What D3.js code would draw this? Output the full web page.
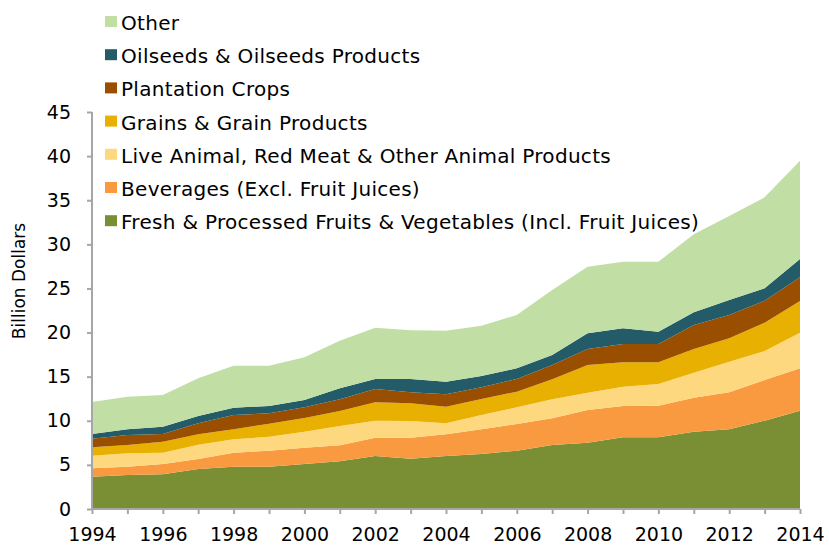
<!DOCTYPE html>
<html>
<head>
<meta charset="utf-8">
<script src="https://cdn.jsdelivr.net/npm/d3@7"></script>
<style>
  html, body { margin: 0; padding: 0; background: #fff; }
  svg { display: block; font-family: "DejaVu Sans", sans-serif; }
</style>
</head>
<body>
<svg id="chart" width="829" height="545"></svg>
<script>
// Years on the horizontal axis
const years = d3.range(1994, 2015);

// Series names, bottom of the stack first
const seriesNames = [
  "Fresh & Processed Fruits & Vegetables (Incl. Fruit Juices)",
  "Beverages (Excl. Fruit Juices)",
  "Live Animal, Red Meat & Other Animal Products",
  "Grains & Grain Products",
  "Plantation Crops",
  "Oilseeds & Oilseeds Products",
  "Other"
];

// Values in billion dollars, one per year 1994–2014
const fruitsVeg   = [3.66, 3.85, 3.93, 4.53, 4.80, 4.80, 5.10, 5.40, 6.01, 5.70, 6.01, 6.23, 6.61, 7.25, 7.52, 8.12, 8.12, 8.77, 9.03, 10.01, 11.14];
const beverages   = [0.95, 0.95, 1.17, 1.14, 1.59, 1.81, 1.85, 1.82, 2.07, 2.38, 2.45, 2.80, 3.03, 3.03, 3.70, 3.56, 3.59, 3.85, 4.19, 4.61, 4.81];
const liveAnimal  = [1.44, 1.51, 1.29, 1.62, 1.51, 1.59, 1.82, 2.19, 1.93, 1.90, 1.25, 1.62, 1.89, 2.15, 1.97, 2.19, 2.46, 2.83, 3.48, 3.29, 4.03];
const grains      = [0.94, 0.94, 1.24, 1.18, 1.13, 1.47, 1.55, 1.70, 2.08, 2.00, 1.89, 1.82, 1.77, 2.27, 3.13, 2.76, 2.46, 2.69, 2.65, 3.21, 3.60];
const plantation  = [0.98, 1.14, 0.87, 1.24, 1.62, 1.18, 1.21, 1.32, 1.51, 1.24, 1.40, 1.32, 1.44, 1.62, 1.82, 2.07, 2.07, 2.72, 2.64, 2.49, 2.68];
const oilseeds    = [0.53, 0.64, 0.83, 0.83, 0.83, 0.83, 0.83, 1.25, 1.14, 1.52, 1.43, 1.29, 1.21, 1.14, 1.77, 1.78, 1.40, 1.44, 1.70, 1.40, 2.08];
const other       = [3.63, 3.70, 3.59, 4.27, 4.77, 4.57, 4.83, 5.40, 5.81, 5.51, 5.78, 5.70, 6.04, 7.36, 7.56, 7.55, 7.93, 8.84, 9.52, 10.32, 11.14];

const seriesValues = [fruitsVeg, beverages, liveAnimal, grains, plantation, oilseeds, other];

const colors = ["#7a8e34", "#f99a40", "#fed87e", "#e8b000", "#9a4e00", "#245b68", "#c1dea4"];

const yTicks = d3.range(0, 46, 5);
const xLabelYears = d3.range(1994, 2015, 2);
const yTitle = "Billion Dollars";

// Row-per-year table for the stack generator
const table = years.map((yr, i) => {
  const row = { year: yr };
  seriesNames.forEach((name, s) => { row[name] = seriesValues[s][i]; });
  return row;
});

const svg = d3.select("#chart");

const x = d3.scaleLinear().domain([1994, 2014]).range([92, 800]);
const y = d3.scaleLinear().domain([0, 45]).range([509, 112]);

const stack = d3.stack().keys(seriesNames);
const layers = stack(table);

const area = d3.area()
  .x(d => x(d.data.year))
  .y0(d => y(d[0]))
  .y1(d => y(d[1]));

svg.append("g")
  .selectAll("path")
  .data(layers)
  .join("path")
  .attr("d", area)
  .attr("fill", (d, i) => colors[i]);

// Axes
const axisColor = "#a6a6a6";

const yAxis = svg.append("g")
  .attr("transform", `translate(${x(1994)},0)`)
  .call(d3.axisLeft(y).tickValues(yTicks).tickSize(5).tickPadding(16).tickFormat(d3.format("d")));

const xAxis = svg.append("g")
  .attr("transform", `translate(0,${y(0)})`)
  .call(d3.axisBottom(x).tickValues(years).tickSize(5).tickPadding(14)
    .tickFormat(d => xLabelYears.includes(d) ? String(d) : ""));

[yAxis, xAxis].forEach(g => {
  g.select(".domain").attr("stroke", axisColor).attr("stroke-width", 2);
  g.selectAll(".tick line").attr("stroke", axisColor).attr("stroke-width", 2);
  g.selectAll(".tick text")
    .attr("fill", "#000")
    .style("font-family", "'DejaVu Sans', sans-serif")
    .style("font-size", "19px");
});
yAxis.select(".domain").attr("d", `M-0,${y(45)}V${y(0)}`);
xAxis.select(".domain").attr("d", `M${x(1994)},0H${x(2014)}`);

svg.append("text")
  .attr("transform", "translate(25,281) rotate(-90)")
  .attr("text-anchor", "middle")
  .style("font-size", "17px")
  .text(yTitle);

// Legend, top entry = top of the stack
const legendOrder = seriesNames.map((n, i) => ({ name: n, color: colors[i] })).reverse();
const legend = svg.append("g");
legendOrder.forEach((item, i) => {
  const cy = 22 + i * 33.2;
  legend.append("rect")
    .attr("x", 105).attr("y", cy - 6)
    .attr("width", 12).attr("height", 11)
    .attr("fill", item.color);
  legend.append("text")
    .attr("x", 121).attr("y", cy + 8)
    .style("font-size", "20px")
    .style("letter-spacing", "0.3px")
    .text(item.name);
});
</script>
</body>
</html>
